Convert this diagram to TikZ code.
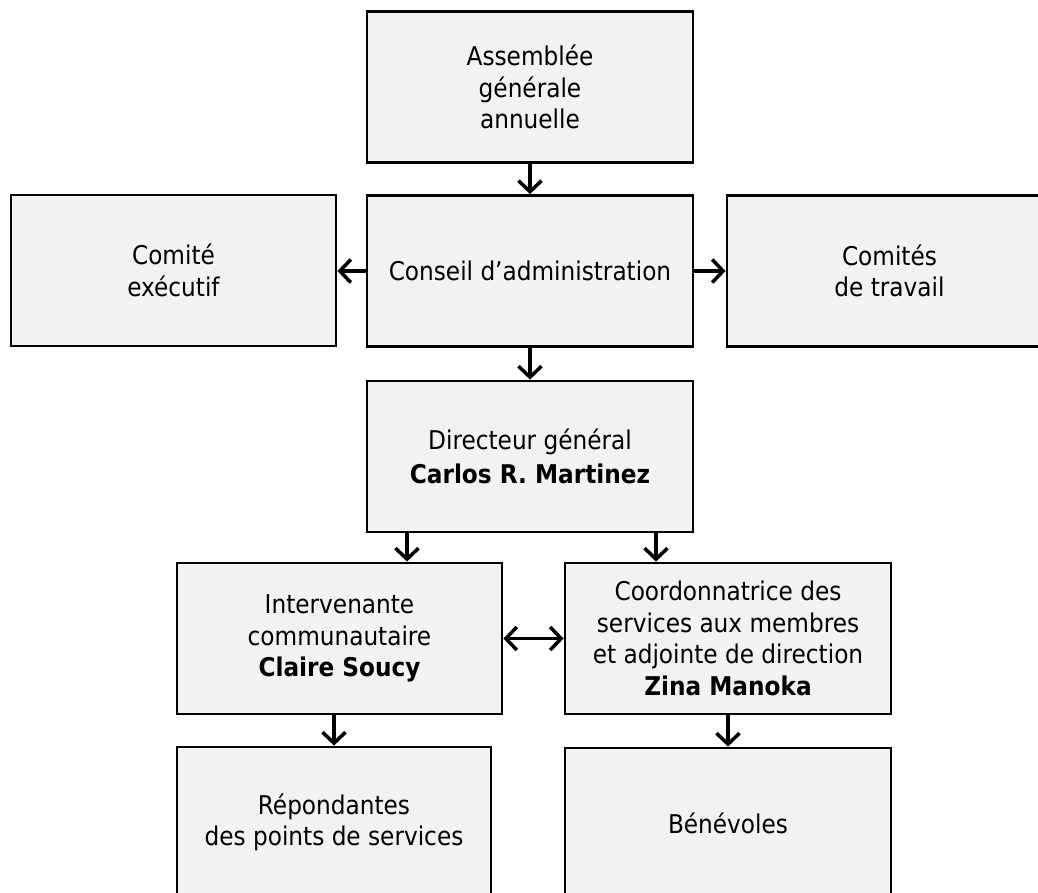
\documentclass[tikz,border=0pt]{standalone}
\usepackage{fontspec}
\setmainfont{DejaVu Sans Condensed}
\usetikzlibrary{arrows.meta}
\definecolor{boxfill}{HTML}{F2F2F2}
\begin{document}
\begin{tikzpicture}[x=1pt,y=-1pt,
  box/.style={draw=black, line width=2.8pt, fill=boxfill, align=center,
    font=\fontsize{25.8}{31.5}\selectfont, inner sep=0pt,
    minimum width=326pt, minimum height=151pt},
  tip/.tip={Straight Barb[length=11pt,width=23pt]},
  conn/.style={line width=3.5pt, -tip},
  dconn/.style={line width=3.5pt, tip-tip}]
\useasboundingbox (0,0) rectangle (1038,892);
\clip (0,0) rectangle (1038,892);
\node[box] (ag) at (530,87) {Assemblée\\générale\\annuelle};
\node[box] (ca) at (530,271) {Conseil d’administration};
\node[box, minimum width=325pt] (ce) at (173.5,270.5) {Comité\\exécutif};
\node[box, minimum width=325pt] (ct) at (889.5,271) {Comités\\de travail};
\node[box] (dg) at (530,456.5) {Directeur général\\[2pt]\textbf{Carlos R. Martinez}};
\node[box, minimum width=325pt] (ic) at (339.5,638.5) {Intervenante\\communautaire\\\textbf{Claire Soucy}};
\node[box] (cs) at (728,638.5) {Coordonnatrice des\\services aux membres\\et adjointe de direction\\\textbf{Zina Manoka}};
\node[box, minimum width=314pt] (rp) at (334,822.5) {Répondantes\\des points de services};
\node[box] (bv) at (728,823.5) {Bénévoles};
\draw[conn] (ag.south) -- (ca.north);
\draw[conn] (ca.west) -- (ce.east |- ca.west);
\draw[conn] (ca.east) -- (ct.west |- ca.east);
\draw[conn] (ca.south) -- (dg.north);
\draw[conn] ([xshift=-123pt]dg.south) -- ([xshift=-123pt]dg.south |- ic.north);
\draw[conn] ([xshift=126pt]dg.south) -- ([xshift=126pt]dg.south |- cs.north);
\draw[dconn] (ic.east) -- (cs.west);
\draw[conn] (rp.north |- ic.south) -- (rp.north);
\draw[conn] (cs.south) -- (bv.north);
\end{tikzpicture}
\end{document}
